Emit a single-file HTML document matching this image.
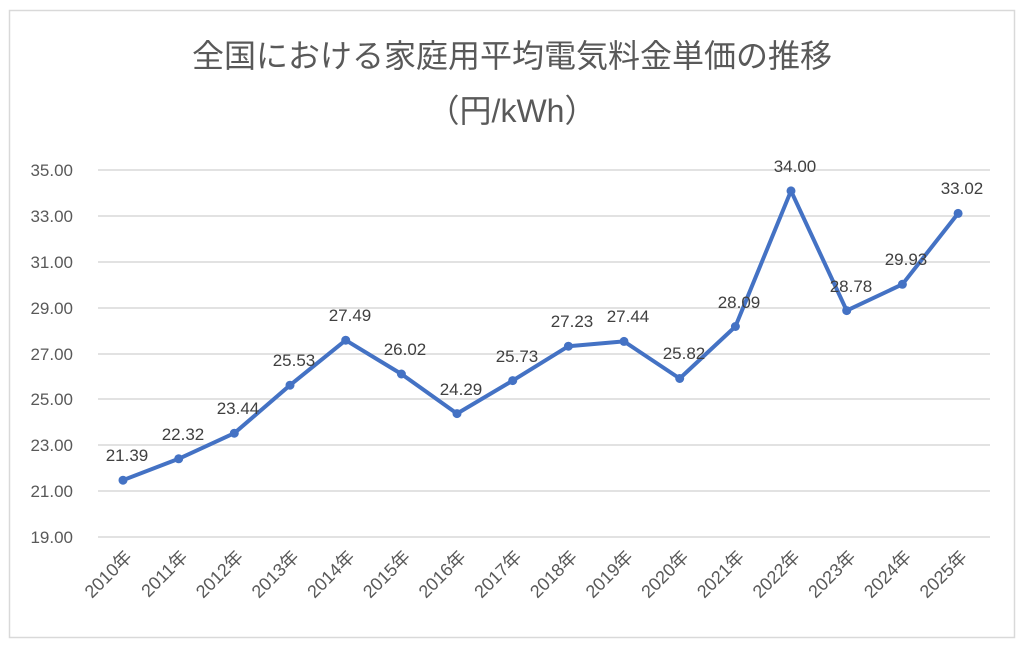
<!DOCTYPE html>
<html><head><meta charset="utf-8"><style>
html,body{margin:0;padding:0;background:#fff;}
</style></head><body>
<svg width="1024" height="652" xmlns="http://www.w3.org/2000/svg" font-family="Liberation Sans, Noto Sans CJK JP, sans-serif">
<rect x="9.5" y="10.5" width="1005" height="627" fill="#fff" stroke="#d9d9d9" stroke-width="1.5"/>
<text x="512" y="67" text-anchor="middle" font-size="32" fill="#595959">全国における家庭用平均電気料金単価の推移</text>
<text x="512" y="122" text-anchor="middle" font-size="32" fill="#595959">（円/kWh）</text>
<g stroke="#d9d9d9" stroke-width="1.5">
<line x1="98" x2="990" y1="537" y2="537"/><line x1="98" x2="990" y1="491" y2="491"/>
<line x1="98" x2="990" y1="445" y2="445"/><line x1="98" x2="990" y1="399" y2="399"/>
<line x1="98" x2="990" y1="354" y2="354"/><line x1="98" x2="990" y1="308" y2="308"/>
<line x1="98" x2="990" y1="262" y2="262"/><line x1="98" x2="990" y1="216" y2="216"/>
<line x1="98" x2="990" y1="170" y2="170"/>
</g>
<g font-size="17" fill="#595959" text-anchor="end">
<text x="73" y="543">19.00</text><text x="73" y="497">21.00</text><text x="73" y="451">23.00</text>
<text x="73" y="405">25.00</text><text x="73" y="360">27.00</text><text x="73" y="314">29.00</text>
<text x="73" y="268">31.00</text><text x="73" y="222">33.00</text><text x="73" y="176">35.00</text>
</g>
<polyline fill="none" stroke="#4472c4" stroke-width="4" stroke-linejoin="round" points="123,480.2 178.7,458.8 234.3,433.2 290,385.2 345.7,340.2 401.4,374 457,413.6 512.7,380.6 568.4,346.2 624,341.4 679.7,378.5 735.4,326.5 791,190.9 846.7,310.6 902.4,284.3 958.1,213.4"/>
<g fill="#4472c4">
<circle cx="123" cy="480.2" r="4.5"/><circle cx="178.7" cy="458.8" r="4.5"/><circle cx="234.3" cy="433.2" r="4.5"/><circle cx="290" cy="385.2" r="4.5"/>
<circle cx="345.7" cy="340.2" r="4.5"/><circle cx="401.4" cy="374" r="4.5"/><circle cx="457" cy="413.6" r="4.5"/><circle cx="512.7" cy="380.6" r="4.5"/>
<circle cx="568.4" cy="346.2" r="4.5"/><circle cx="624" cy="341.4" r="4.5"/><circle cx="679.7" cy="378.5" r="4.5"/><circle cx="735.4" cy="326.5" r="4.5"/>
<circle cx="791" cy="190.9" r="4.5"/><circle cx="846.7" cy="310.6" r="4.5"/><circle cx="902.4" cy="284.3" r="4.5"/><circle cx="958.1" cy="213.4" r="4.5"/>
</g>
<g font-size="17" fill="#404040" text-anchor="middle">
<text x="127" y="461">21.39</text><text x="183" y="440">22.32</text><text x="238" y="414">23.44</text><text x="294" y="366">25.53</text>
<text x="350" y="321">27.49</text><text x="405" y="355">26.02</text><text x="461" y="395">24.29</text><text x="517" y="362">25.73</text>
<text x="572" y="327">27.23</text><text x="628" y="322">27.44</text><text x="684" y="359">25.82</text><text x="739" y="308">28.09</text>
<text x="795" y="172">34.00</text><text x="851" y="292">28.78</text><text x="906" y="265">29.93</text><text x="962" y="194">33.02</text>
</g>
<g font-size="18" fill="#595959" text-anchor="end">
<text x="133" y="558" transform="rotate(-45 133 558)">2010年</text>
<text x="188.7" y="558" transform="rotate(-45 188.7 558)">2011年</text>
<text x="244.3" y="558" transform="rotate(-45 244.3 558)">2012年</text>
<text x="300" y="558" transform="rotate(-45 300 558)">2013年</text>
<text x="355.7" y="558" transform="rotate(-45 355.7 558)">2014年</text>
<text x="411.4" y="558" transform="rotate(-45 411.4 558)">2015年</text>
<text x="467" y="558" transform="rotate(-45 467 558)">2016年</text>
<text x="522.7" y="558" transform="rotate(-45 522.7 558)">2017年</text>
<text x="578.4" y="558" transform="rotate(-45 578.4 558)">2018年</text>
<text x="634" y="558" transform="rotate(-45 634 558)">2019年</text>
<text x="689.7" y="558" transform="rotate(-45 689.7 558)">2020年</text>
<text x="745.4" y="558" transform="rotate(-45 745.4 558)">2021年</text>
<text x="801" y="558" transform="rotate(-45 801 558)">2022年</text>
<text x="856.7" y="558" transform="rotate(-45 856.7 558)">2023年</text>
<text x="912.4" y="558" transform="rotate(-45 912.4 558)">2024年</text>
<text x="968.1" y="558" transform="rotate(-45 968.1 558)">2025年</text>
</g>
</svg>
</body></html>
